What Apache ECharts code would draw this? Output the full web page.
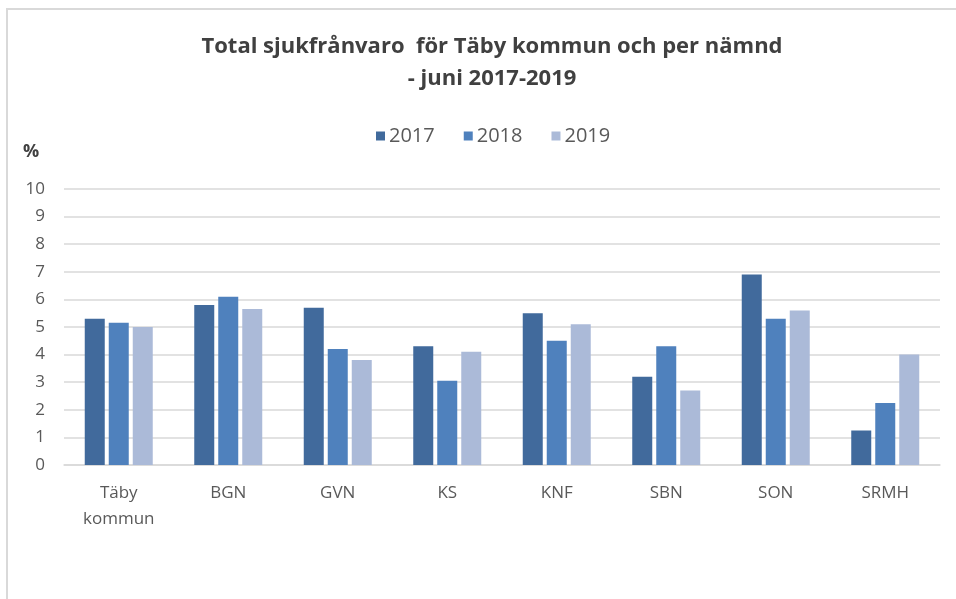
<!DOCTYPE html>
<html>
<head>
<meta charset="utf-8">
<script src="https://cdn.jsdelivr.net/npm/echarts@6/dist/echarts.min.js"></script>
<style>
  html, body { margin: 0; padding: 0; background: #fff; }
  #main { width: 956px; height: 599px; }
</style>
</head>
<body>
<div id="main"></div>
<script>
// kategorier (nämnder)
var categories = ['Täby\nkommun', 'BGN', 'GVN', 'KS', 'KNF', 'SBN', 'SON', 'SRMH'];

// sjukfrånvaro i procent, juni
var y2017 = [5.3, 5.8, 5.7, 4.3, 5.5, 3.2, 6.9, 1.25];
var y2018 = [5.15, 6.1, 4.2, 3.05, 4.5, 4.3, 5.3, 2.25];
var y2019 = [5.0, 5.65, 3.8, 4.1, 5.1, 2.7, 5.6, 4.0];

var yTicks = [0, 10, 1]; // min, max, steg

var chart = echarts.init(document.getElementById('main'), null, { renderer: 'canvas' });

var font = '"Open Sans", "Liberation Sans", sans-serif';
var textGray = '#595959';

var option = {
  backgroundColor: '#fff',
  animation: false,
  title: {
    text: 'Total sjukfrånvaro  för Täby kommun och per nämnd\n- juni 2017-2019',
    left: 487,
    textAlign: 'center',
    top: 26,
    textStyle: {
      fontFamily: font,
      fontSize: 22,
      fontWeight: 'bold',
      color: '#404040',
      lineHeight: 32
    }
  },
  legend: {
    data: ['2017', '2018', '2019'],
    left: 371,
    top: 121,
    icon: 'rect',
    itemWidth: 9,
    itemHeight: 9,
    itemGap: 29,
    textStyle: { fontFamily: font, fontSize: 20, color: textGray, padding: [0, 0, 0, -1] }
  },
  grid: { left: 64, right: 16, top: 189, bottom: 134, containLabel: false },
  xAxis: {
    type: 'category',
    data: categories,
    axisLine: { show: true, lineStyle: { color: '#d9d9d9', width: 1.5 } },
    axisTick: { show: false },
    axisLabel: {
      fontFamily: font,
      fontSize: 17,
      color: textGray,
      margin: 15,
      lineHeight: 26
    }
  },
  yAxis: {
    type: 'value',
    min: yTicks[0],
    max: yTicks[1],
    interval: yTicks[2],
    name: '%',
    nameLocation: 'end',
    nameGap: 28,
    nameTextStyle: { fontFamily: font, fontSize: 18, fontWeight: 'bold', color: '#404040', padding: [0, 66, 0, 0] },
    axisLine: { show: false },
    axisTick: { show: false },
    splitLine: { lineStyle: { color: '#d9d9d9', width: 1.5 } },
    axisLabel: { fontFamily: font, fontSize: 17, color: textGray, margin: 19 }
  },
  series: [
    { name: '2017', type: 'bar', data: y2017, barWidth: 20, barGap: '20%', itemStyle: { color: '#416a9c' } },
    { name: '2018', type: 'bar', data: y2018, barWidth: 20, barGap: '20%', itemStyle: { color: '#4f81bd' } },
    { name: '2019', type: 'bar', data: y2019, barWidth: 20, barGap: '20%', itemStyle: { color: '#abbad8' } }
  ],
  graphic: [
    {
      // ram runt diagrammet (bara topp och vänster syns)
      type: 'rect',
      shape: { x: 7, y: 9, width: 1000, height: 700 },
      style: { fill: 'none', stroke: '#d9d9d9', lineWidth: 2 },
      silent: true
    }
  ]
};

chart.setOption(option);
</script>
</body>
</html>
